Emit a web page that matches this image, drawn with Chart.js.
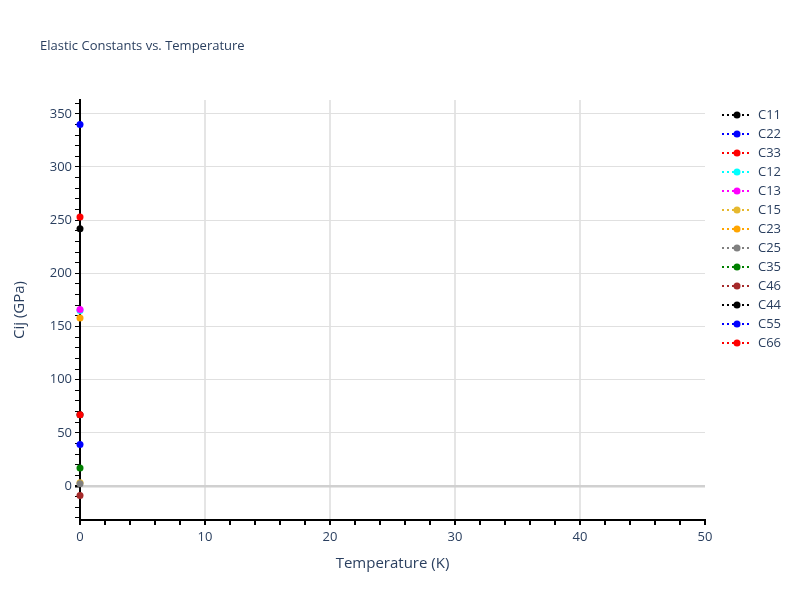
<!DOCTYPE html>
<html>
<head>
<meta charset="utf-8">
<script src="https://cdn.jsdelivr.net/npm/chart.js@4.4.1/dist/chart.umd.min.js"></script>
<style>
  html, body { margin: 0; padding: 0; background: #ffffff; }
  #wrap { width: 800px; height: 600px; position: relative; }
</style>
</head>
<body>
<div id="wrap"><canvas id="c" width="800" height="600"></canvas></div>
<script>
const chartTitle = "Elastic Constants vs. Temperature";
const xAxisTitle = "Temperature (K)";
const yAxisTitle = "Cij (GPa)";
const temperature = [0];
const seriesLabels = ["C11", "C22", "C33", "C12", "C13", "C15", "C23", "C25", "C35", "C46", "C44", "C55", "C66"];
const C11 = [242];
const C22 = [340];
const C33 = [253];
const C12 = [165];
const C13 = [166];
const C15 = [3];
const C23 = [158];
const C25 = [2];
const C35 = [17];
const C46 = [-9];
const C44 = [67];
const C55 = [39];
const C66 = [67];
const seriesValues = [C11, C22, C33, C12, C13, C15, C23, C25, C35, C46, C44, C55, C66];
const seriesColors = ["#000000", "#0000ff", "#ff0000", "#00ffff", "#ff00ff", "#e6b82e", "#ffa500", "#808080", "#008000", "#a52a2a", "#000000", "#0000ff", "#ff0000"];
const xTickLabels = [0, 10, 20, 30, 40, 50];
const yTickLabels = [0, 50, 100, 150, 200, 250, 300, 350];

const textColor = "#2a3f5f";
const fontFamily = "'Open Sans', 'Noto Sans', sans-serif";

const datasets = seriesLabels.map((lab, i) => ({
  label: lab,
  data: temperature.map((t, j) => ({ x: t, y: seriesValues[i][j] })),
  borderColor: seriesColors[i],
  backgroundColor: seriesColors[i],
  pointBackgroundColor: seriesColors[i],
  pointBorderColor: seriesColors[i],
  pointRadius: 3.5,
  pointBorderWidth: 0,
  borderWidth: 2,
  borderDash: [2, 3],
  showLine: true,
  clip: false,
  order: seriesLabels.length - i
}));

const titlePlugin = {
  id: 'customTitle',
  afterDraw(chart) {
    const ctx = chart.ctx;
    ctx.save();
    ctx.font = "13px " + fontFamily;
    ctx.fillStyle = textColor;
    ctx.textAlign = "left";
    ctx.textBaseline = "middle";
    ctx.fillText(chartTitle, 40, 46);
    ctx.restore();
  }
};

const legendPlugin = {
  id: 'customLegend',
  afterDraw(chart) {
    const ctx = chart.ctx;
    ctx.save();
    chart.data.datasets.forEach((ds, i) => {
      const y = 115 + i * 19;
      ctx.strokeStyle = ds.borderColor;
      ctx.lineWidth = 2;
      ctx.setLineDash([2, 3]);
      ctx.beginPath();
      ctx.moveTo(722, y);
      ctx.lineTo(752, y);
      ctx.stroke();
      ctx.setLineDash([]);
      ctx.fillStyle = ds.borderColor;
      ctx.beginPath();
      ctx.arc(737, y, 3.5, 0, Math.PI * 2);
      ctx.fill();
      ctx.font = "13px " + fontFamily;
      ctx.fillStyle = textColor;
      ctx.textAlign = "left";
      ctx.textBaseline = "middle";
      ctx.fillText(ds.label, 758, y);
    });
    ctx.restore();
  }
};

new Chart(document.getElementById('c'), {
  type: 'scatter',
  data: { datasets },
  plugins: [titlePlugin, legendPlugin],
  options: {
    responsive: false,
    animation: false,
    devicePixelRatio: 1,
    layout: { padding: { left: 0, top: 100, right: 95, bottom: 0 } },
    plugins: { legend: { display: false }, tooltip: { enabled: false }, title: { display: false } },
    scales: {
      x: {
        type: 'linear',
        min: xTickLabels[0],
        max: xTickLabels[xTickLabels.length - 1],
        afterFit(scale) { scale.height = 80; },
        ticks: {
          stepSize: 2,
          includeBounds: false,
          autoSkip: false,
          maxRotation: 0,
          color: textColor,
          font: { family: fontFamily, size: 13 },
          padding: 4,
          callback: (v) => xTickLabels.includes(v) ? String(v) : ''
        },
        grid: {
          drawTicks: true,
          tickLength: 5,
          tickColor: '#000000',
          color: (c) => {
            const v = c.tick ? c.tick.value : null;
            if (v === null) return 'rgba(0,0,0,0)';
            if (v === 0 || v === 50) return 'rgba(0,0,0,0)';
            return xTickLabels.includes(v) ? '#e5e5e5' : 'rgba(0,0,0,0)';
          },
          lineWidth: 2
        },
        border: { display: true, color: '#000000', width: 2 },
        title: {
          display: true,
          text: xAxisTitle,
          color: textColor,
          font: { family: fontFamily, size: 15 },
          padding: { top: 0, bottom: 27 }
        }
      },
      y: {
        type: 'linear',
        min: -32,
        max: 363,
        afterFit(scale) { scale.width = 80; },
        ticks: {
          stepSize: 10,
          includeBounds: false,
          autoSkip: false,
          color: textColor,
          font: { family: fontFamily, size: 13 },
          padding: 3,
          callback: (v) => yTickLabels.includes(v) ? String(v) : ''
        },
        grid: {
          drawTicks: true,
          tickLength: 5,
          tickColor: '#000000',
          color: (c) => {
            const v = c.tick ? c.tick.value : null;
            if (v === null) return 'rgba(0,0,0,0)';
            if (v === 0) return '#d0d0d0';
            return yTickLabels.includes(v) ? '#e0e0e0' : 'rgba(0,0,0,0)';
          },
          lineWidth: (c) => (c.tick && c.tick.value === 0) ? 2.5 : 1
        },
        border: { display: true, color: '#000000', width: 2 },
        title: {
          display: true,
          text: yAxisTitle,
          color: textColor,
          font: { family: fontFamily, size: 15 },
          padding: { top: 11, bottom: 0 }
        }
      }
    }
  }
});
</script>
</body>
</html>
